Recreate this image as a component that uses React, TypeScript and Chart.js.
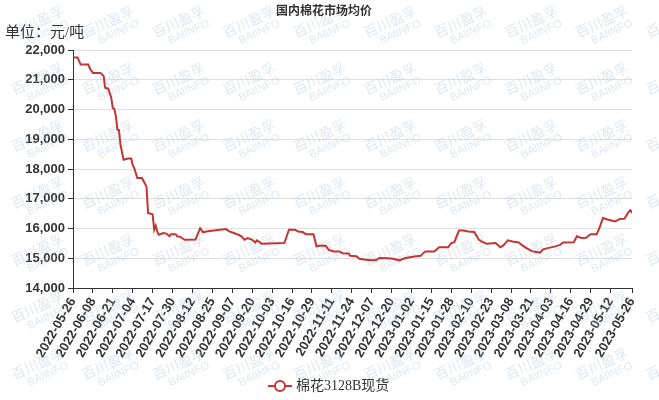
import React, { useEffect, useRef } from 'react';
import { Chart, registerables } from 'chart.js';

Chart.register(...registerables);

const TITLE = '国内棉花市场均价';
const UNIT_LABEL = '单位：元/吨';
const SERIES_NAME = '棉花3128B现货';
const START_DATE = '2022-05-26';

const X_TICK_LABELS = [
  '2022-05-26', '2022-06-08', '2022-06-21', '2022-07-04', '2022-07-17', '2022-07-30',
  '2022-08-12', '2022-08-25', '2022-09-07', '2022-09-20', '2022-10-03', '2022-10-16',
  '2022-10-29', '2022-11-11', '2022-11-24', '2022-12-07', '2022-12-20', '2023-01-02',
  '2023-01-15', '2023-01-28', '2023-02-10', '2023-02-23', '2023-03-08', '2023-03-21',
  '2023-04-03', '2023-04-16', '2023-04-29', '2023-05-12', '2023-05-26',
];

const Y_MIN = 14000;
const Y_MAX = 22000;
const Y_STEP = 1000;

// days after START_DATE
const PRICE_DAYS = [
  0, 3, 5, 10, 11, 13, 18, 20, 21, 23, 25, 26, 27, 28, 29, 30, 31, 33, 36, 38,
  39, 40, 42, 45, 48, 49, 52, 53, 54, 55, 56, 59, 61, 63, 64, 67, 68, 70, 71, 73,
  80, 83, 85, 87, 92, 100, 102, 105, 108, 110, 112, 114, 117, 119, 120, 122, 123, 138, 141, 145,
  147, 150, 152, 157, 159, 161, 165, 167, 170, 174, 176, 180, 181, 185, 187, 191, 195, 198, 200, 206,
  209, 213, 217, 223, 227, 230, 236, 239, 245, 247, 249, 252, 255, 258, 262, 265, 267, 270, 276, 279,
  281, 284, 287, 291, 293, 296, 300, 305, 307, 310, 315, 318, 320, 327, 329, 332, 335, 338, 342, 344,
  346, 349, 354, 357, 360, 363, 364, 365,
];

// 元/吨
const PRICES = [
  21750, 21750, 21510, 21510, 21380, 21230, 21230, 21120, 20730, 20700, 20390, 20050, 20020, 19770, 19320, 19300, 18820, 18310, 18350, 18350,
  18140, 18030, 17700, 17700, 17410, 16520, 16480, 15960, 16100, 15900, 15790, 15850, 15830, 15740, 15810, 15810, 15740, 15720, 15680, 15620,
  15630, 16010, 15870, 15900, 15930, 15980, 15900, 15850, 15790, 15740, 15620, 15680, 15620, 15530, 15600, 15540, 15490, 15510, 15960, 15960,
  15900, 15880, 15810, 15810, 15400, 15420, 15420, 15280, 15230, 15230, 15170, 15160, 15080, 15070, 14980, 14950, 14930, 14940, 15010, 15000,
  14980, 14930, 15010, 15060, 15080, 15230, 15230, 15370, 15370, 15510, 15540, 15930, 15930, 15900, 15880, 15620, 15560, 15490, 15510, 15370,
  15430, 15600, 15560, 15530, 15450, 15340, 15230, 15190, 15300, 15340, 15400, 15450, 15530, 15540, 15740, 15680, 15690, 15810, 15810, 16050,
  16350, 16300, 16240, 16320, 16330, 16570, 16610, 16520,
];

const LINE_COLOR = '#c23531';
const TEXT_COLOR = '#333';
const SANS = "'Liberation Sans', Arial, sans-serif";
const SERIF_CJK = "'Liberation Serif', 'Noto Sans CJK SC', serif";

const dayOf = (label: string) =>
  Math.round((Date.parse(label) - Date.parse(START_DATE)) / 86400000);

const decorPlugin = {
  id: 'decor',
  beforeDatasetsDraw(chart: any) {
    const ctx = chart.ctx as CanvasRenderingContext2D;
    ctx.save();
    ctx.fillStyle = 'rgba(170, 190, 212, 0.38)';
    ctx.textAlign = 'center';
    ctx.textBaseline = 'middle';
    for (let j = 0; j < 7; j++) {
      for (let k = 0; k < 10; k++) {
        const cx = 40 + 70.5 * k;
        const cy = 27 + 57 * j;
        ctx.save();
        ctx.translate(cx, cy);
        ctx.rotate(-25 * Math.PI / 180);
        ctx.font = "14px 'Noto Sans CJK SC', sans-serif";
        ctx.fillText('百川盈孚', 0, -6);
        ctx.font = `11px ${SANS}`;
        ctx.fillText('BAIINFO', 5, 8);
        ctx.restore();
      }
    }
    ctx.restore();
  },
  afterDraw(chart: any) {
    const ctx = chart.ctx as CanvasRenderingContext2D;
    ctx.save();
    // title
    ctx.fillStyle = TEXT_COLOR;
    ctx.textAlign = 'center';
    ctx.textBaseline = 'middle';
    ctx.font = "bold 12px 'Noto Sans CJK SC', sans-serif";
    ctx.fillText(TITLE, 324, 10);
    // unit
    ctx.textAlign = 'left';
    ctx.font = `15px ${SERIF_CJK}`;
    ctx.fillText(UNIT_LABEL, 5, 33);
    // legend
    const ds = chart.data.datasets[0];
    const ly = 386;
    ctx.strokeStyle = LINE_COLOR;
    ctx.lineWidth = 2;
    ctx.beginPath();
    ctx.moveTo(268, ly);
    ctx.lineTo(292, ly);
    ctx.stroke();
    ctx.beginPath();
    ctx.arc(280, ly, 5, 0, Math.PI * 2);
    ctx.fillStyle = '#fff';
    ctx.fill();
    ctx.stroke();
    ctx.fillStyle = TEXT_COLOR;
    ctx.font = `14px ${SERIF_CJK}`;
    ctx.fillText(ds.label, 296, ly);
    ctx.restore();
  },
};

export default function App() {
  const canvasRef = useRef<HTMLCanvasElement | null>(null);

  useEffect(() => {
    document.body.style.margin = '0';
    const canvas = canvasRef.current;
    if (!canvas) return;
    const points = PRICE_DAYS.map((d, i) => ({ x: d, y: PRICES[i] }));
    const chart = new Chart(canvas, {
      type: 'line',
      data: {
        datasets: [
          {
            label: SERIES_NAME,
            data: points,
            borderColor: LINE_COLOR,
            backgroundColor: LINE_COLOR,
            borderWidth: 2,
            pointRadius: 0,
            tension: 0,
            fill: false,
          },
        ],
      },
      options: {
        animation: false,
        responsive: false,
        devicePixelRatio: 1,
        layout: { padding: { left: 0, right: 27, top: 50, bottom: 26 } },
        plugins: {
          legend: { display: false },
          title: { display: false },
          tooltip: { enabled: false },
        },
        scales: {
          x: {
            type: 'linear',
            min: dayOf(X_TICK_LABELS[0]),
            max: dayOf(X_TICK_LABELS[X_TICK_LABELS.length - 1]),
            afterBuildTicks: (scale: any) => {
              scale.ticks = X_TICK_LABELS.map((l) => ({ value: dayOf(l) }));
            },
            afterFit: (scale: any) => {
              scale.height = 86;
            },
            ticks: {
              autoSkip: false,
              minRotation: 60,
              maxRotation: 60,
              padding: 2,
              color: TEXT_COLOR,
              font: { family: SANS, size: 13, weight: 'bold' },
              callback: (value: any) => X_TICK_LABELS.find((l) => dayOf(l) === value) ?? '',
            },
            grid: {
              drawOnChartArea: false,
              drawTicks: true,
              tickLength: 5,
              tickColor: TEXT_COLOR,
            },
            border: { color: TEXT_COLOR, width: 1 },
          },
          y: {
            min: Y_MIN,
            max: Y_MAX,
            afterFit: (scale: any) => {
              scale.width = 73;
            },
            ticks: {
              stepSize: Y_STEP,
              padding: 3,
              color: TEXT_COLOR,
              font: { family: SANS, size: 13, weight: 'bold' },
            },
            grid: {
              color: '#e0e0e0',
              tickLength: 5,
              tickColor: TEXT_COLOR,
            },
            border: { color: TEXT_COLOR, width: 1 },
          },
        },
      },
      plugins: [decorPlugin],
    } as any);
    return () => chart.destroy();
  }, []);

  return (
    <div style={{ width: 659, height: 400, overflow: 'hidden' }}>
      <canvas ref={canvasRef} width={659} height={400} style={{ display: 'block' }} />
    </div>
  );
}
